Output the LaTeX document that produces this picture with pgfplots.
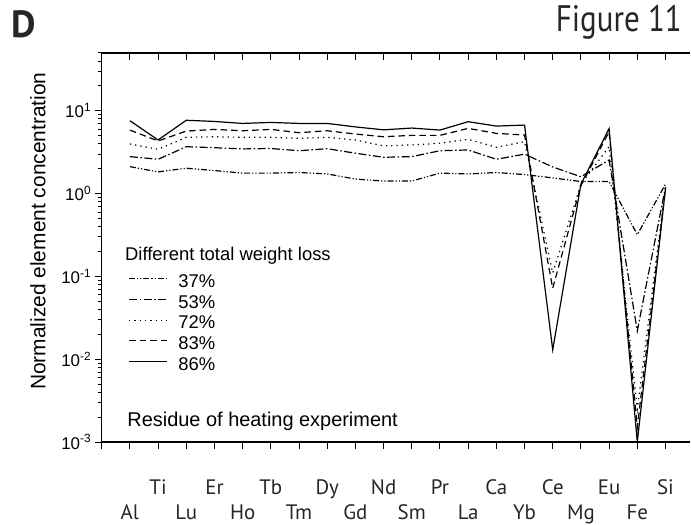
\documentclass[border=0pt]{standalone}
\usepackage{fontspec}
\setmainfont{Liberation Sans}
\newfontfamily\labelfont{PT Sans}
\newfontfamily\figfont[FakeStretch=0.84]{PT Sans}
\usepackage{pgfplots}
\usepackage{pgfplotstable}
\pgfplotsset{compat=1.18}

% Normalized concentrations of the heating residues, one column per weight loss
\pgfplotstableread{
x  el  p37   p53   p72    p83    p86
1  Al  2.12  2.80  3.98   5.86   7.60
2  Ti  1.83  2.60  3.43   4.33   4.45
3  Lu  2.03  3.69  4.79   5.70   7.70
4  Er  1.90  3.59  4.87   5.97   7.45
5  Ho  1.77  3.47  4.79   5.75   7.05
6  Tb  1.77  3.51  4.79   5.97   7.25
7  Tm  1.80  3.30  4.65   5.45   7.05
8  Dy  1.73  3.49  4.79   5.75   7.05
9  Gd  1.50  3.08  4.45   5.25   6.40
10 Nd  1.42  2.75  3.77   4.87   5.90
11 Sm  1.42  2.80  3.88   5.06   6.20
12 Pr  1.77  3.30  4.06   5.06   5.86
13 La  1.73  3.37  4.53   6.14   7.40
14 Ca  1.80  2.60  3.63   5.35   6.55
15 Yb  1.70  3.00  4.24   5.10   6.73
16 Ce  1.55  2.10  0.11   0.072  0.013
17 Mg  1.40  1.60  1.30   1.25   1.30
18 Eu  1.40  2.55  3.70   5.60   6.10
19 Fe  0.32  0.022 0.0025 0.0015 0.001
20 Si  1.30  1.20  1.20   1.15   1.15
}\residue

% odd elements go on the lower label row
\newcommand{\xl}[1]{\raisebox{-25bp}[0pt][0pt]{#1}}

\begin{document}
\begin{tikzpicture}
\path[use as bounding box] (0bp,0bp) rectangle (691bp,525bp);

\begin{axis}[
  at={(101.7bp,83bp)}, anchor=south west,
  width=588.3bp, height=389bp, scale only axis,
  xmin=0, xmax=20.87, ymin=1e-3, ymax=50, ymode=log,
  axis x line*=bottom, axis y line*=left,
  axis line style={line width=1.3bp},
  tick align=outside,
  major tick length=7bp, minor tick length=4bp,
  tick style={black, line width=1bp},
  xtick={0,...,20},
  xticklabels={,\xl{Al},Ti,\xl{Lu},Er,\xl{Ho},Tb,\xl{Tm},Dy,\xl{Gd},Nd,\xl{Sm},Pr,\xl{La},Ca,\xl{Yb},Ce,\xl{Mg},Eu,\xl{Fe},Si},
  xticklabel style={font=\labelfont\fontsize{21}{21}\selectfont, text=black!85, anchor=north, inner sep=0pt, text height=15bp, text depth=5bp, yshift=-30bp},
  yticklabel={\pgfmathtruncatemacro\e{round(\tick/ln(10))}10\textsuperscript{\e}},
  yticklabel style={font=\fontsize{17}{17}\selectfont},
  ylabel={Normalized element concentration},
  ylabel style={font=\fontsize{21}{21}\selectfont, at={(axis description cs:-0.1085,0.542)}, anchor=center},
  every axis plot/.append style={black, line width=1.2bp},
  legend style={draw=none, fill=none, at={(axis description cs:0.0452,0.4337)}, anchor=north west,
    inner sep=0pt, column sep=10.7bp,
    nodes={inner sep=0pt, text height=14bp, text depth=6.65bp},
    font=\fontsize{18.5}{18.5}\selectfont},
  legend cell align=left,
  legend image code/.code={\draw[#1] (0bp,5bp) -- (38bp,5bp);},
]
\addplot[dash pattern=on 6bp off 2bp on 1.2bp off 2bp on 1.2bp off 2bp] table[x=x, y=p37] {\residue};
\addlegendentry{37\%}
\addplot[dash pattern=on 8bp off 2.5bp on 1.5bp off 2.5bp] table[x=x, y=p53] {\residue};
\addlegendentry{53\%}
\addplot[dash pattern=on 1.3bp off 4bp] table[x=x, y=p72] {\residue};
\addlegendentry{72\%}
\addplot[dash pattern=on 6.5bp off 4bp] table[x=x, y=p83] {\residue};
\addlegendentry{83\%}
\addplot[solid] table[x=x, y=p86] {\residue};
\addlegendentry{86\%}

\node[anchor=west, inner sep=0pt, font=\fontsize{18.5}{18.5}\selectfont] at (axis description cs:0.0395,0.478) {Different total weight loss};
\node[anchor=west, inner sep=0pt, font=\fontsize{20}{20}\selectfont] at (axis description cs:0.0435,0.052) {Residue of heating experiment};
\end{axis}

% top border with inward ticks
\begin{axis}[
  at={(101.7bp,83bp)}, anchor=south west,
  width=588.3bp, height=389bp, scale only axis,
  xmin=0, xmax=20.87, ymin=0, ymax=1,
  axis x line*=top, hide y axis,
  axis line style={line width=1.3bp},
  tick align=inside, major tick length=7bp,
  tick style={black, line width=1bp},
  xtick={0,...,20}, xticklabels={},
]
\end{axis}

\node[anchor=center, font=\labelfont\bfseries\fontsize{38}{38}\selectfont, text=black!85] at (23.5bp,501bp) {D};
\node[anchor=east, inner sep=0pt, font=\figfont\fontsize{37}{37}\selectfont, text=black!85] at (682bp,503bp) {Figure 11};
\end{tikzpicture}
\end{document}
